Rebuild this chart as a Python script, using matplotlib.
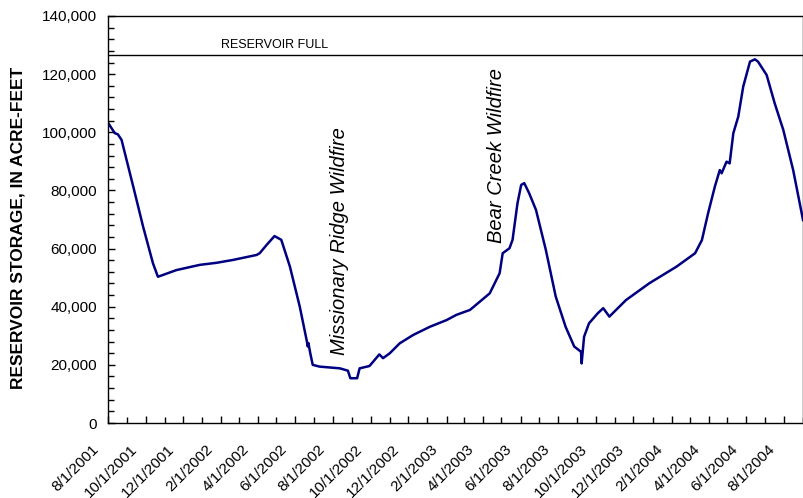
import pandas as pd
import matplotlib
matplotlib.use("Agg")
import matplotlib.pyplot as plt
import matplotlib.dates as mdates
from matplotlib.ticker import FuncFormatter, MultipleLocator
from matplotlib.transforms import ScaledTranslation

plt.rcParams['font.family'] = ['Liberation Sans', 'DejaVu Sans']

# storage readings (date, acre-feet)
dates = ["2001-08-01", "2001-08-12", "2001-08-17", "2001-08-23", "2001-09-11",
         "2001-09-27", "2001-10-13", "2001-10-21", "2001-11-20", "2001-12-28",
         "2002-01-24", "2002-02-20", "2002-03-30", "2002-04-04", "2002-04-15",
         "2002-04-28", "2002-05-09", "2002-05-23", "2002-06-08", "2002-06-19",
         "2002-06-21", "2002-06-22", "2002-06-25", "2002-06-29", "2002-07-10",
         "2002-08-12", "2002-08-25", "2002-08-29", "2002-09-09", "2002-09-13",
         "2002-09-29", "2002-10-05", "2002-10-15", "2002-10-21", "2002-11-01",
         "2002-11-17", "2002-12-09", "2003-01-05", "2003-02-01", "2003-02-17",
         "2003-03-11", "2003-04-12", "2003-04-28", "2003-05-03", "2003-05-14",
         "2003-05-19", "2003-05-27", "2003-06-02", "2003-06-07", "2003-06-15",
         "2003-06-26", "2003-07-12", "2003-07-28", "2003-08-13", "2003-08-27",
         "2003-09-07", "2003-09-08", "2003-09-12", "2003-09-20", "2003-10-04",
         "2003-10-13", "2003-10-23", "2003-11-19", "2003-12-27", "2004-02-09",
         "2004-03-10", "2004-03-21", "2004-03-31", "2004-04-11", "2004-04-19",
         "2004-04-22", "2004-04-30", "2004-05-05", "2004-05-11", "2004-05-19",
         "2004-05-27", "2004-06-07", "2004-06-15", "2004-06-20", "2004-07-04",
         "2004-07-17", "2004-07-31", "2004-08-16", "2004-09-01"]
storage = [103300, 99700, 99300, 97400, 81300,
           67500, 54900, 50300, 52600, 54400,
           55100, 56100, 57800, 58400, 61200,
           64300, 63000, 53800, 40000, 28600,
           26300, 27500, 24000, 20000, 19400,
           18800, 18000, 15400, 15400, 18800,
           19600, 21100, 23600, 22300, 24000,
           27400, 30300, 33100, 35400, 37200,
           38900, 44600, 51500, 58400, 60100,
           63000, 75600, 81900, 82500, 79000,
           73300, 59500, 43500, 33100, 26300,
           24500, 20500, 29700, 34300, 37700,
           39500, 36600, 42300, 48100, 53800,
           58400, 62900, 72100, 81300, 87000,
           85900, 89900, 89300, 99700, 105400,
           115700, 124300, 125100, 124300, 119700,
           110000, 100800, 87000, 69800]

full_level = 126500
fires = ["Missionary Ridge Wildfire", "Bear Creek Wildfire"]
fire_dates = ["2002-08-12", "2003-04-23"]
fire_y = [23400, 61900]

d = pd.to_datetime(dates)

fig = plt.figure(figsize=(8.04, 4.98), dpi=100)
ax = fig.add_axes([0.1343, 0.1506, 0.8645, 0.8173])

ax.plot(d, storage, color='#000080', linewidth=1.8, solid_joinstyle='round')
ax.axhline(full_level, color='black', linewidth=1)
ax.text(pd.Timestamp("2002-01-31"), full_level + 2500, "RESERVOIR FULL", fontsize=9)

for name, fd, fy in zip(fires, fire_dates, fire_y):
    ax.text(pd.Timestamp(fd), fy, name, rotation=90, style='italic', fontsize=14.5,
            ha='center', va='bottom')

ax.set_xlim(pd.Timestamp("2001-08-01"), pd.Timestamp("2004-09-01"))
ax.set_ylim(0, 140000)

ax.xaxis.set_major_locator(mdates.MonthLocator(bymonth=[2, 4, 6, 8, 10, 12]))
ax.xaxis.set_minor_locator(mdates.MonthLocator())
ax.xaxis.set_major_formatter(FuncFormatter(
    lambda v, p: "{0.month}/{0.day}/{0.year}".format(mdates.num2date(v))))
ax.yaxis.set_major_locator(MultipleLocator(20000))
ax.yaxis.set_minor_locator(MultipleLocator(4000))
ax.yaxis.set_major_formatter(FuncFormatter(lambda v, p: f"{int(v):,}"))

ax.tick_params(axis='both', which='both', direction='in', width=1)
ax.tick_params(axis='both', which='major', length=5)
ax.tick_params(axis='both', which='minor', length=4)
ax.tick_params(axis='y', labelsize=11, pad=8)
ax.tick_params(axis='x', labelsize=11, pad=14)

ax.set_ylabel("RESERVOIR STORAGE, IN ACRE-FEET", fontsize=12.5, fontweight='bold')
ax.yaxis.set_label_coords(-0.118, 0.48)

for s in ax.spines.values():
    s.set_linewidth(1)

# date labels sit a little left of their ticks in the original
fig.canvas.draw()
shift = ScaledTranslation(-0.06, 0, fig.dpi_scale_trans)
for tick in ax.xaxis.get_major_ticks():
    tick.label1.set_transform(tick.label1.get_transform() + shift)
    tick.label1.set_rotation(45)
    tick.label1.set_ha('right')

fig.savefig("out.png", dpi=100)
